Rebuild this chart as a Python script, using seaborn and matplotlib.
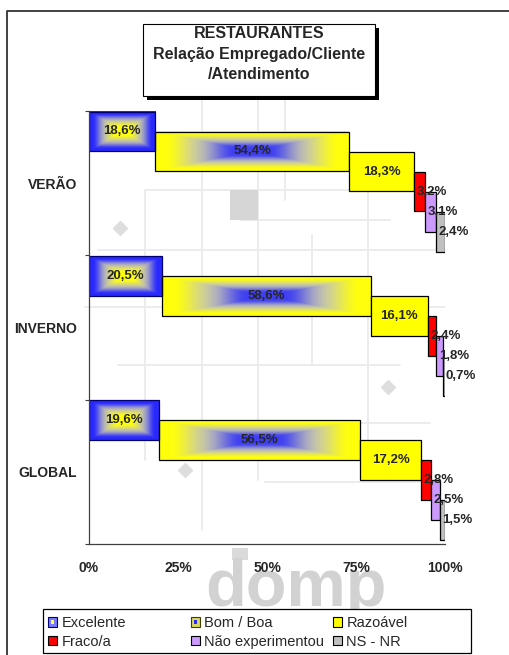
import numpy as np
import pandas as pd
import matplotlib
matplotlib.use("Agg")
import matplotlib.pyplot as plt
import seaborn as sns
from matplotlib.patches import Rectangle, Patch
from matplotlib.lines import Line2D
from matplotlib.legend_handler import HandlerBase

# ---- data -------------------------------------------------------------
groups = ["VERÃO", "INVERNO", "GLOBAL"]
categories = ["Excelente", "Bom / Boa", "Razoável", "Fraco/a", "Não experimentou", "NS - NR"]
excelente = [18.6, 20.5, 19.6]
bom_boa = [54.4, 58.6, 56.5]
razoavel = [18.3, 16.1, 17.2]
fraco = [3.2, 2.4, 2.8]
nao_experimentou = [3.1, 1.8, 2.5]
ns_nr = [2.4, 0.7, 1.5]
x_ticks = [0, 25, 50, 75, 100]
x_ticklabels = ["0%", "25%", "50%", "75%", "100%"]
title_lines = ["RESTAURANTES", "Relação Empregado/Cliente", "/Atendimento"]

series = [excelente, bom_boa, razoavel, fraco, nao_experimentou, ns_nr]

# ---- styling ----------------------------------------------------------
W, H, DPI = 509, 655, 100
BLUE_EDGE = np.array([0.16, 0.16, 1.0])
BLUE_CORE = np.array([0.25, 0.25, 0.95])
YELLOW = np.array([1.0, 1.0, 0.05])
fills = ["#2828ff", "#ffff00", "#ffff00", "#ff0000", "#cc99ff", "#c0c0c0"]
edges = ["#000070", "#000000", "#000000", "#000000", "#000000", "#000000"]
gradients = {0: (BLUE_EDGE, YELLOW), 1: (YELLOW, BLUE_CORE)}  # (edge colour, centre colour)

# vertical layout inside one group band (band height = 1)
BAR_H = 0.277
STEP = 0.1386
OFF0 = 0.0035

sns.set_style("white")
plt.rcParams["font.family"] = ["Liberation Sans", "DejaVu Sans"]


def fx(px):
    return px / W


def fy(py):
    return 1 - py / H


def fmt(v):
    return f"{v:.1f}".replace(".", ",") + "%"


def rect_gradient(edge_rgb, centre_rgb, nx=300, ny=80):
    """Rectangular 'from centre' fill: centre colour in the middle, edge colour at the border."""
    u = np.abs(np.linspace(-1, 1, nx))
    v = np.abs(np.linspace(-1, 1, ny))
    d = np.maximum(u[None, :], v[:, None])
    s = np.clip((d - 0.18) / 0.72, 0, 1)
    s = s * s * (3 - 2 * s)
    s = s[..., None]
    rgb = centre_rgb * (1 - s) + edge_rgb * s
    rgb = rgb + 0.35 * (1 - rgb) * 4 * s * (1 - s)
    return np.clip(rgb, 0, 1)


# long table: one row per segment, with its cumulative start
rows = []
for gi, g in enumerate(groups):
    start = 0.0
    for ci, cat in enumerate(categories):
        v = series[ci][gi]
        rows.append(dict(group=g, category=cat, value=v, start=start,
                         pos=gi + OFF0 + ci * STEP + BAR_H / 2))
        start += v
df = pd.DataFrame(rows)

fig = plt.figure(figsize=(W / DPI, H / DPI), dpi=DPI)
fig.patch.set_facecolor("white")

# faint floor-plan watermark behind the plot
plan_segments = [
    ((98, 250), (445, 250)), ((85, 307), (445, 307)), ((118, 365), (400, 365)),
    ((145, 190), (390, 190)), ((240, 220), (390, 220)), ((360, 423), (430, 423)),
    ((265, 482), (420, 482)), ((202, 60), (202, 530)), ((258, 100), (258, 480)),
    ((285, 100), (285, 200)), ((368, 190), (368, 440)), ((312, 235), (312, 365)),
    ((145, 190), (145, 460)),
]
for (x0, y0), (x1, y1) in plan_segments:
    fig.add_artist(Line2D([fx(x0), fx(x1)], [fy(y0), fy(y1)], color="#ebebeb",
                          lw=1.3, zorder=-3))
fig.add_artist(Rectangle((fx(230), fy(220)), fx(28), 30 / H, facecolor="#d6d6d6",
                         edgecolor="none", zorder=-3))
fig.add_artist(Rectangle((fx(232), fy(560)), fx(16), 12 / H, facecolor="#dadada",
                         edgecolor="none", zorder=-3))
for cx, cy in [(120, 228), (185, 470), (388, 387)]:
    fig.add_artist(Line2D([fx(cx)], [fy(cy)], marker="D", ms=7, color="#dedede",
                          lw=0, zorder=-3))
fig.text(fx(296), fy(606), "domp", fontsize=48, weight="bold", color="#d2d2d2",
         ha="center", va="baseline", zorder=-2)

# outer frame (left and top edges)
fig.add_artist(Line2D([fx(7), fx(7), fx(509)], [fy(655), fy(11), fy(11)],
                      color="#333333", lw=1.3, zorder=10))

# ---- bars -------------------------------------------------------------
ax = fig.add_axes([fx(89), fy(544), 356 / W, 433 / H])
ax.set_facecolor("none")

for ci, cat in enumerate(categories):
    sub = df[df["category"] == cat].sort_values("pos")
    n0 = len(ax.patches)
    sns.barplot(data=sub, x="value", y="pos", orient="h", native_scale=True,
                width=BAR_H, left=sub["start"].to_numpy(), color=fills[ci],
                saturation=1, edgecolor=edges[ci], linewidth=0.9,
                errorbar=None, ax=ax, zorder=2)
    if ci in gradients:
        edge_rgb, centre_rgb = gradients[ci]
        img = rect_gradient(edge_rgb, centre_rgb)
        for p in ax.patches[n0:]:
            p.set_facecolor("none")
            x, y, w, h = p.get_x(), p.get_y(), p.get_width(), p.get_height()
            ax.imshow(img, extent=(x, x + w, y + h, y), aspect="auto",
                      interpolation="bilinear", zorder=1.5)

# value labels
for _, r in df.iterrows():
    if r["value"] >= 5:
        ax.text(r["start"] + r["value"] / 2, r["pos"], fmt(r["value"]),
                ha="center", va="center", fontsize=9.5, weight="bold", zorder=5)
    else:
        ax.text(r["start"] + 0.7, r["pos"], fmt(r["value"]),
                ha="left", va="center", fontsize=9.5, weight="bold", zorder=5)

ax.set_xlim(0, 100)
ax.set_ylim(3, 0)
ax.set_xlabel("")
ax.set_ylabel("")
ax.set_xticks(x_ticks, labels=x_ticklabels)
ax.set_yticks([0.5, 1.5, 2.5], labels=groups)
ax.set_yticks([0, 1, 2, 3], minor=True)
ax.tick_params(axis="x", which="major", direction="out", length=3.6, width=0.8,
               color="#404040", pad=8.5, labelsize=10)
ax.tick_params(axis="y", which="major", length=0, pad=8.6, labelsize=10)
ax.tick_params(axis="y", which="minor", direction="out", length=3, width=0.8,
               color="#404040", left=True)
for lab in ax.get_xticklabels() + ax.get_yticklabels():
    lab.set_fontweight("bold")
for side in ("top", "right"):
    ax.spines[side].set_visible(False)
for side in ("left", "bottom"):
    ax.spines[side].set_color("#404040")
    ax.spines[side].set_linewidth(0.9)

# ---- title box with drop shadow ---------------------------------------
bx0, by0, bx1, by1 = 143, 24, 375, 96
fig.add_artist(Rectangle((fx(bx0 + 4), fy(by1 + 4)), fx(bx1 - bx0), (by1 - by0) / H,
                         facecolor="black", edgecolor="none", zorder=6))
fig.add_artist(Rectangle((fx(bx0), fy(by1)), fx(bx1 - bx0), (by1 - by0) / H,
                         facecolor="white", edgecolor="black", lw=0.8, zorder=7))
for line, base in zip(title_lines, [38, 58.5, 79]):
    fig.text(fx((bx0 + bx1) / 2), fy(base), line, ha="center", va="baseline",
             fontsize=11.5, weight="bold", zorder=8)


# ---- legend -----------------------------------------------------------
class SwatchHandler(HandlerBase):
    def __init__(self, outer, inner=None, edge="#000000"):
        super().__init__()
        self.outer, self.inner, self.edge = outer, inner, edge

    def create_artists(self, legend, orig_handle, xdescent, ydescent, width,
                       height, fontsize, trans):
        s = height
        x0 = -xdescent + (width - s) / 2
        y0 = -ydescent
        arts = [Rectangle((x0, y0), s, s, facecolor=self.outer,
                          edgecolor=self.edge, lw=0.8, transform=trans)]
        if self.inner is not None:
            k = s * 0.38
            arts.append(Rectangle((x0 + (s - k) / 2, y0 + (s - k) / 2), k, k,
                                  facecolor=self.inner, edgecolor="none",
                                  transform=trans))
        return arts


swatches = [
    SwatchHandler("#7a7aff", "#ffff40", "#000070"),
    SwatchHandler("#d8d860", "#2828ff", "#404000"),
    SwatchHandler("#ffff00"),
    SwatchHandler("#ff0000"),
    SwatchHandler("#cc99ff"),
    SwatchHandler("#c0c0c0"),
]
handles = [Patch(label=c) for c in categories]

fig.add_artist(Rectangle((fx(43), fy(653)), fx(428), 44 / H, facecolor="white",
                         edgecolor="black", lw=0.9, zorder=4))
col_x = [48, 191, 333]
for col in range(3):
    idx = [col, col + 3]
    leg = fig.legend([handles[i] for i in idx], [categories[i] for i in idx],
                     handler_map={handles[i]: swatches[i] for i in idx},
                     loc="center left", bbox_to_anchor=(fx(col_x[col]), fy(632.5)),
                     frameon=False, fontsize=10.5, handlelength=0.62,
                     handleheight=0.62, handletextpad=0.3, labelspacing=0.3,
                     borderpad=0, borderaxespad=0)
    leg.set_zorder(5)

fig.savefig("out.png", dpi=DPI, facecolor="white")
